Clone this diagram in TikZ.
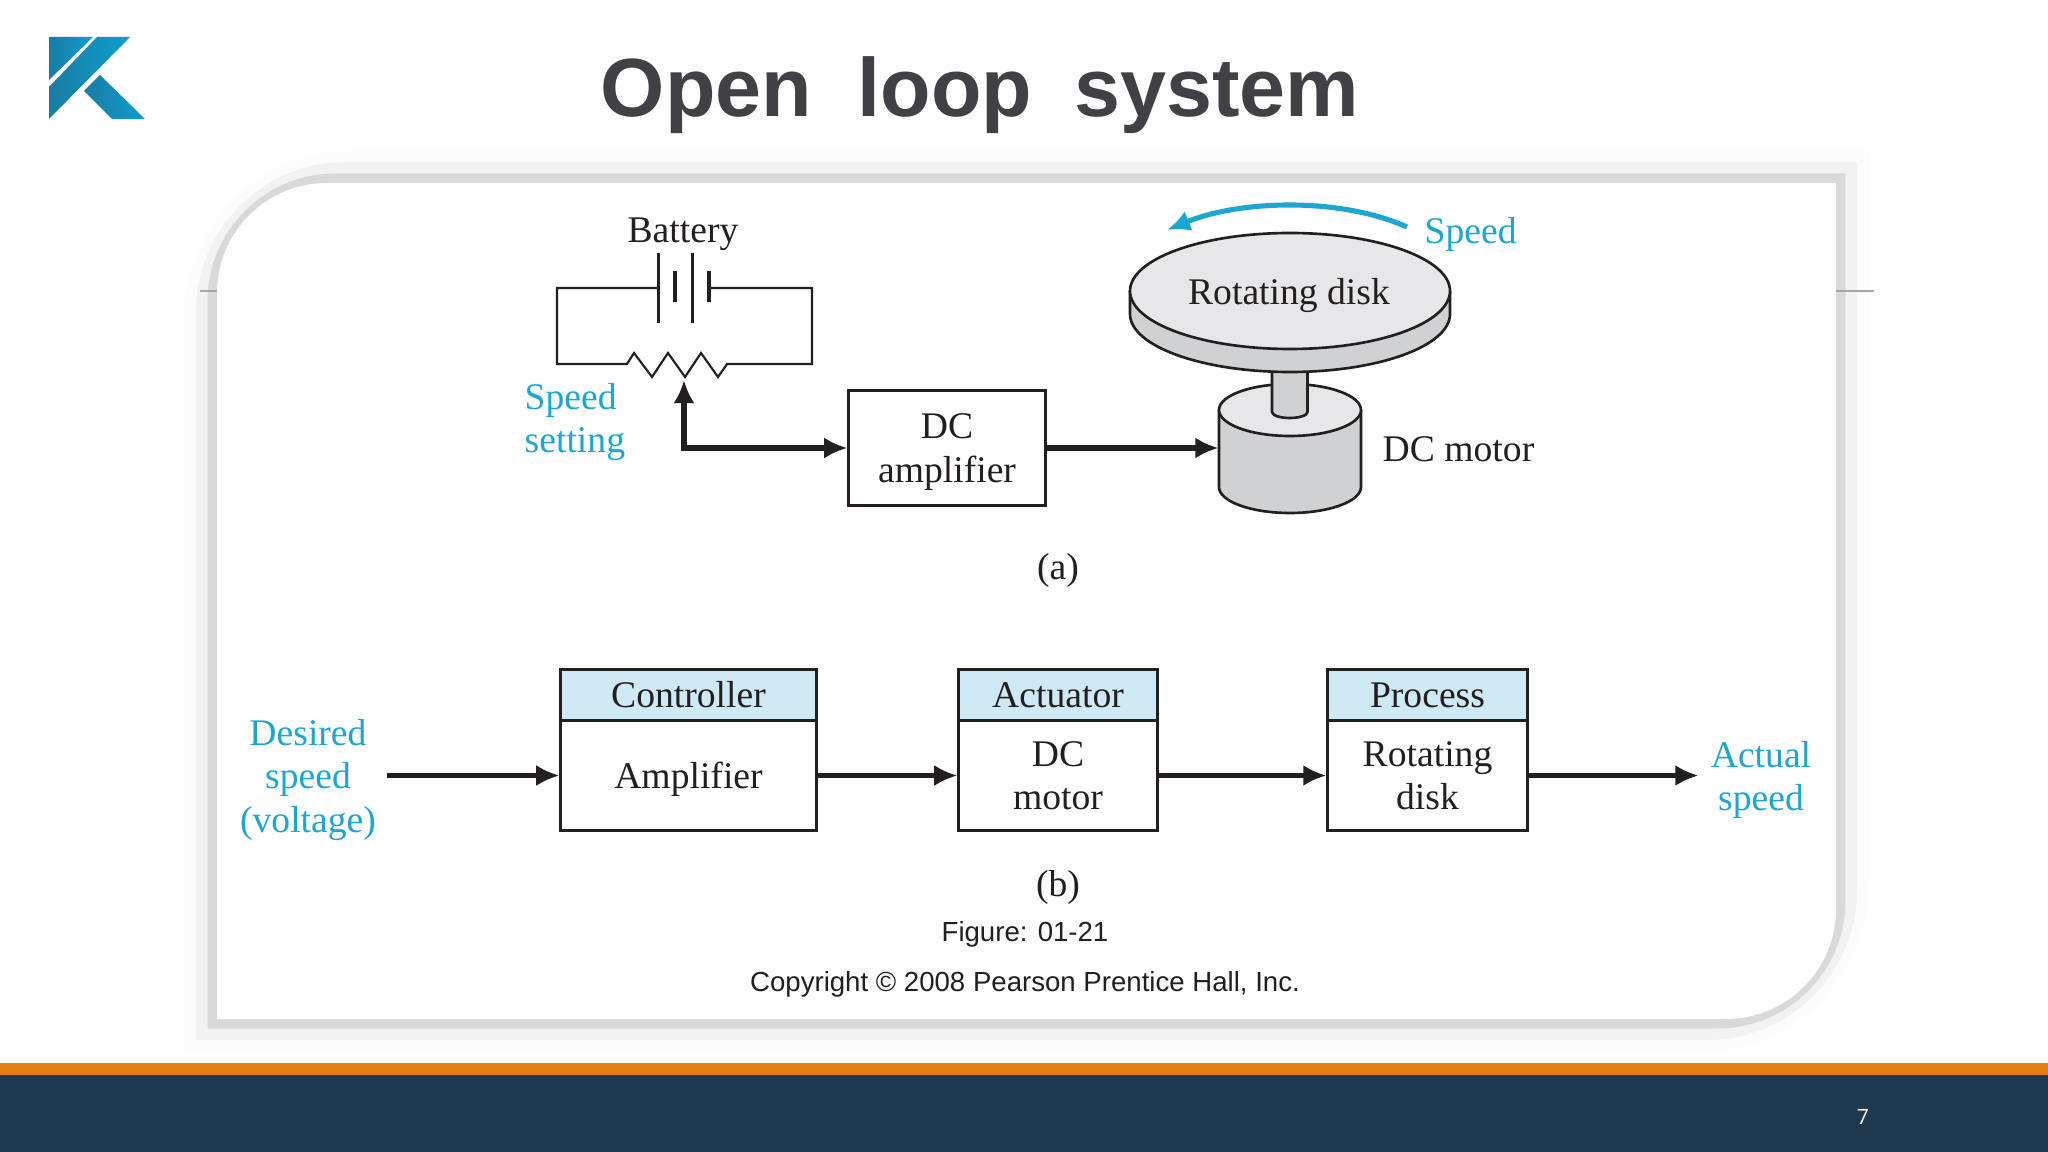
\documentclass[tikz,border=0pt]{standalone}
\usepackage{fontspec}
\setmainfont{Liberation Serif}
\setsansfont{Liberation Sans}
\newfontfamily\pagenumfont{Open Sans}
\usetikzlibrary{arrows.meta}
\usetikzlibrary{calc}
\definecolor{logodark}{HTML}{1A7CA3}
\definecolor{logolight}{HTML}{0C9FD0}
\definecolor{labelblue}{HTML}{1EA6D2}
\definecolor{headerblue}{HTML}{CFE9F5}
\definecolor{footerblue}{HTML}{1F3A4F}
\definecolor{footerorange}{HTML}{E3800F}
\definecolor{inkblack}{HTML}{231F20}
\definecolor{titlegray}{HTML}{404045}
\definecolor{disktop}{HTML}{E7E7E9}
\definecolor{diskrim}{HTML}{D0D1D3}
\tikzstyle{txt}=[inner sep=0pt, align=center, text=inkblack, font=\fontsize{10.7}{12.3}\selectfont]
\tikzstyle{bluetxt}=[txt, text=labelblue]
\tikzstyle{captxt}=[inner sep=0pt, text=inkblack, font=\sffamily\fontsize{7.85}{9}\selectfont]
\tikzstyle{wire}=[inkblack, line width=0.6pt]
\tikzstyle{part}=[inkblack, line width=0.75pt, line join=round]
\tikzstyle{heavy}=[inkblack, line width=1.45pt]
\tikzstyle{header}=[rectangle, draw=inkblack, line width=0.85pt, fill=headerblue, anchor=north, minimum height=0.51cm]
\tikzstyle{body}=[rectangle, draw=inkblack, line width=0.85pt, fill=white, anchor=north, minimum height=1.10cm]
\tikzset{>={Latex[length=6.6pt,width=6pt]}}

\begin{document}
\begin{tikzpicture}[x=0.01cm, y=-0.01cm]
\useasboundingbox (0,0) rectangle (2048,1152);
\fill[white!99.5!black] (0,0) rectangle (2048,1152);

% footer
\fill[footerblue] (0,1075) rectangle (2048,1152);
\fill[footerorange] (0,1063) rectangle (2048,1075);
\node[inner sep=0pt, text=white, font=\pagenumfont\fontsize{6}{7}\selectfont] (pagenum) at (1863,1117) {7};

% logo
\shade[left color=logodark, right color=logolight] (49,37) -- (93,37) -- (49,80) -- cycle;
\shade[left color=logodark, right color=logolight] (97,37) -- (130,37) -- (49,119) -- (49,87) -- cycle;
\shade[left color=logodark, right color=logolight] (100,75) -- (145,119) -- (112,119) -- (84,91) -- cycle;

\node[inner sep=0pt, anchor=base, text=titlegray, font=\sffamily\bfseries\fontsize{23.5}{28}\selectfont] (title) at (980,117) {Open\hspace{13pt}loop\hspace{12pt}system};

% panel shadow, widening layers with softer corners
\foreach \e/\R/\c in {33/170/black!1, 21/150/black!5, 9.5/128/black!15}
	\fill[\c] ({217-\e},{183-\e+\R}) arc (180:270:\R) -- ({1836+\e},{183-\e}) -- ({1836+\e},{1019+\e-\R}) arc (0:90:\R) -- ({217-\e},{1019+\e}) -- cycle;

% thin rule behind the panel
\draw[gray!70, line width=0.3pt] (200,291) -- (1874,291);

% panel
\fill[white!99.5!black] (217,293) arc (180:270:110) -- (1836,183) -- (1836,909) arc (0:90:110) -- (217,1019) -- cycle;

% battery and potentiometer
\draw[wire] (658,288) -- (557,288) -- (557,364) -- (627,364) -- (634,353) -- (652,377) -- (668,353) -- (685,377) -- (701,353) -- (718,377) -- (727,364) -- (812,364) -- (812,288) -- (709,288);
\draw[wire, line width=0.85pt] (658,253) -- (658,323);
\draw[wire, line width=0.85pt] (692,253) -- (692,323);
\draw[wire, line width=0.9pt] (675,271) -- (675,302);
\draw[wire, line width=0.9pt] (709,271) -- (709,302);
\node[txt] (battery) at (683,234) {Battery};
\node[bluetxt, align=left, anchor=west] (setting) at (524,422) {Speed\\setting};

% disk, shaft and motor
\filldraw[part, fill=diskrim] (1219,410) -- (1219,487) arc (180:0:71 and 26) -- (1361,410) -- cycle;
\filldraw[part, fill=disktop] (1290,410) ellipse [x radius=71, y radius=26];
\filldraw[part, fill=diskrim] (1272,365) -- (1272,412) arc (180:0:17.75 and 6) -- (1307.5,365) -- cycle;
\filldraw[part, fill=diskrim] (1130,291) -- (1130,314) arc (180:0:160 and 58) -- (1450,291) -- cycle;
\filldraw[part, fill=disktop] (1290,291) ellipse [x radius=160, y radius=58];
\node[txt] (disk) at (1289,296) {Rotating disk};
\node[txt, anchor=west] (motorlabel) at (1382,449) {DC motor};
\node[bluetxt, anchor=west] (speedlabel) at (1424,234) {Speed};

\node[rectangle, draw=inkblack, line width=0.85pt, minimum width=1.96cm, minimum height=1.15cm, txt, text depth=0pt] (dcamp) at (947,448) {DC\\amplifier};
\coordinate (wiper) at (684,380);
\coordinate (motorin) at ($(dcamp.east)+(172,0)$);
\coordinate (arcstart) at (1407,227);
\coordinate (arctip) at (1167,230);

\draw[heavy, <->] (wiper) |- (dcamp);
\draw[heavy, ->] (dcamp) -- (motorin);
\draw[labelblue, line width=1.45pt, ->] (arcstart) .. controls (1340,197) and (1240,200) .. (arctip);

\node[txt] (figa) at (1058,570) {(a)};

% block diagram
\node[header, txt, minimum width=2.55cm] (ctrlhead) at (688.5,668) {Controller};
\node[body, txt, minimum width=2.55cm, text depth=0pt] (ctrl) at (688.5,719) {Amplifier};
\node[header, txt, minimum width=1.98cm] (acthead) at (1058,668) {Actuator};
\node[body, txt, minimum width=1.98cm] (act) at (1058,719) {DC\\motor};
\node[header, txt, minimum width=1.99cm] (prochead) at (1427.5,668) {Process};
\node[body, txt, minimum width=1.99cm] (proc) at (1427.5,719) {Rotating\\disk};

\node[bluetxt] (desired) at (308,780) {Desired\\speed\\(voltage)};
\node[bluetxt] (actual) at (1761,780) {Actual\\speed};
\coordinate (in) at ($(ctrl.west)+(-172,0)$);
\coordinate (out) at ($(proc.east)+(170,0)$);

\draw[heavy, ->] (in) -- (ctrl);
\draw[heavy, ->] (ctrl) -- (act);
\draw[heavy, ->] (act) -- (proc);
\draw[heavy, ->] (proc) -- (out);

\node[txt] (figb) at (1058,887) {(b)};
\node[captxt] (figname) at (1025,934) {Figure: 01-21};
\node[captxt] (copyright) at (1025,984) {Copyright \textcopyright{} 2008 Pearson Prentice Hall, Inc.};

\end{tikzpicture}
\end{document}
